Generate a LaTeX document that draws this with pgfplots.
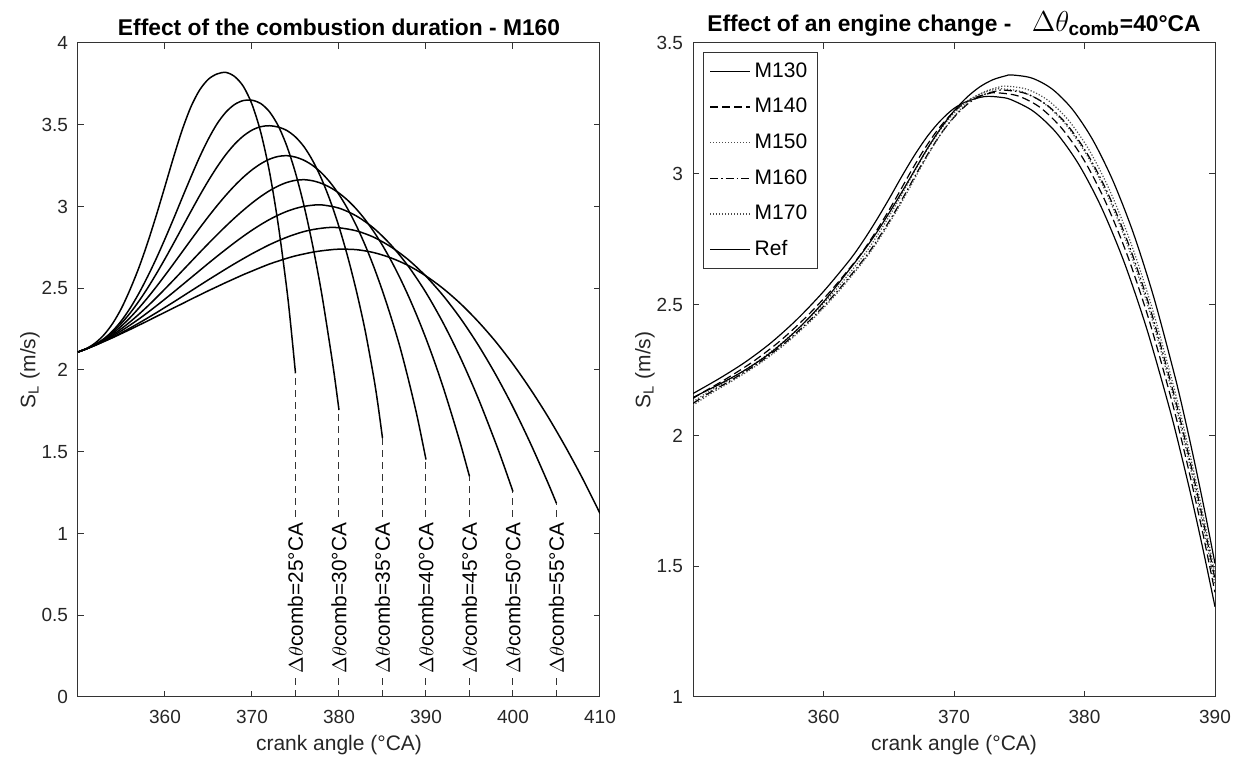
\documentclass[border=0pt]{standalone}
\usepackage{fontspec}
\setmainfont{Liberation Sans}
\usepackage{amsmath}
\usepackage{pgfplots}
\pgfplotsset{compat=1.18}

\pgfplotsset{
  every axis title shift=0pt,
  mat/.style={
    scale only axis, width=261pt, height=327pt,
    anchor=south west,
    axis line style={black!80, line width=0.5pt},
    tick style={black!80, line width=0.5pt},
    tick align=inside,
    major tick length=3.2pt,
    /pgf/number format/assume math mode=true,
    ticklabel style={font=\fontsize{9.5}{11}\selectfont, text=black!85},
    xticklabel style={yshift=-3pt},
    yticklabel style={xshift=-1.5pt},
    label style={font=\fontsize{10.5}{12}\selectfont, text=black!85},
    xlabel style={at={(axis description cs:0.5,-0.0734)}, anchor=center},
    ylabel style={at={(axis description cs:-0.092,0.5)}, anchor=center},
    title style={font=\bfseries\fontsize{11.4}{13}\selectfont, at={(0.5,1)}, anchor=south},
  },
  cur/.style={black, line width=0.75pt, smooth},
  vdash/.style={black!80, line width=0.5pt, dash pattern=on 3.5pt off 2.5pt},
  rc/.style={line width=0.6pt, smooth},
}
\tikzset{lab/.style={rotate=90, fill=white, inner sep=1pt, font=\fontsize{10.4}{12}\selectfont}}

\begin{document}
\begin{tikzpicture}
\useasboundingbox (0,0) rectangle (619.5pt,382pt);

% ---------------- left panel ----------------
\begin{axis}[mat, at={(39pt,33.5pt)},
  xmin=350, xmax=410, ymin=0, ymax=4,
  xtick={360,370,380,390,400,410},
  ytick={0,0.5,1,1.5,2,2.5,3,3.5,4},
  xlabel={crank angle (°CA)},
  ylabel={S\textsubscript{L} (m/s)},
  title={Effect of the combustion duration - M160},
]
% dtheta = 25
\addplot[cur] coordinates {(350,2.11) (351,2.132) (352,2.166) (353,2.216) (354,2.286) (355,2.378) (356,2.494) (357,2.626) (358,2.778) (359,2.946) (360,3.124) (361,3.304) (362,3.472) (363,3.612) (364,3.714) (365,3.779) (366,3.811) (367,3.820) (368,3.795) (369,3.735) (370,3.625) (371,3.455) (372,3.215) (373,2.895) (374,2.495) (374.5,2.25) (375,1.98)};
% dtheta = 30
\addplot[cur] coordinates {(350,2.11) (351,2.130) (352,2.156) (353,2.192) (354,2.240) (355,2.302) (356,2.379) (357,2.469) (358,2.571) (359,2.682) (360,2.802) (361,2.927) (362,3.056) (363,3.183) (364,3.305) (365,3.414) (366,3.507) (367,3.577) (368,3.624) (369,3.648) (370,3.650) (371,3.630) (372,3.580) (373,3.495) (374,3.370) (375,3.205) (376,3.000) (377,2.755) (378,2.470) (379,2.135) (379.5,1.955) (380,1.755)};
% dtheta = 35
\addplot[cur] coordinates {(350,2.11) (351,2.130) (352,2.156) (353,2.190) (354,2.233) (355,2.286) (356,2.349) (357,2.421) (358,2.501) (359,2.588) (360,2.680) (361,2.776) (362,2.874) (363,2.972) (364,3.068) (365,3.159) (366,3.243) (367,3.318) (368,3.381) (369,3.431) (370,3.467) (371,3.488) (372,3.494) (373,3.486) (374,3.465) (375,3.425) (376,3.364) (377,3.278) (378,3.168) (379,3.034) (380,2.876) (381,2.693) (382,2.483) (383,2.243) (384,1.953) (384.5,1.78) (385,1.583)};
% dtheta = 40
\addplot[cur] coordinates {(350,2.11) (351,2.130) (352,2.155) (353,2.186) (354,2.224) (355,2.269) (356,2.321) (357,2.379) (358,2.442) (359,2.509) (360,2.579) (361,2.651) (362,2.724) (363,2.797) (364,2.869) (365,2.939) (366,3.006) (367,3.069) (368,3.127) (369,3.179) (370,3.224) (371,3.261) (372,3.289) (373,3.306) (374,3.311) (375,3.302) (376,3.282) (377,3.250) (378,3.205) (379,3.146) (380,3.073) (381,2.985) (382,2.882) (383,2.764) (384,2.631) (385,2.483) (386,2.320) (387,2.142) (388,1.937) (389,1.712) (390,1.452)};
% dtheta = 45
\addplot[cur] coordinates {(350,2.11) (351,2.130) (352,2.154) (353,2.182) (354,2.215) (355,2.253) (356,2.295) (357,2.341) (358,2.390) (359,2.442) (360,2.496) (361,2.551) (362,2.607) (363,2.663) (364,2.719) (365,2.774) (366,2.828) (367,2.880) (368,2.930) (369,2.977) (370,3.021) (371,3.061) (372,3.096) (373,3.125) (374,3.147) (375,3.160) (376,3.164) (377,3.157) (378,3.141) (379,3.116) (380,3.082) (381,3.038) (382,2.984) (383,2.920) (384,2.846) (385,2.762) (386,2.668) (387,2.564) (388,2.450) (389,2.326) (390,2.192) (391,2.047) (392,1.890) (393,1.720) (394,1.542) (395,1.349)};
% dtheta = 50
\addplot[cur] coordinates {(350,2.11) (351,2.130) (352,2.153) (353,2.179) (354,2.208) (355,2.240) (356,2.275) (357,2.312) (358,2.351) (359,2.392) (360,2.434) (361,2.477) (362,2.521) (363,2.565) (364,2.609) (365,2.653) (366,2.696) (367,2.738) (368,2.779) (369,2.818) (370,2.855) (371,2.889) (372,2.920) (373,2.947) (374,2.970) (375,2.988) (376,3.001) (377,3.008) (378,3.010) (380,2.990) (382,2.942) (384,2.867) (386,2.763) (388,2.632) (390,2.473) (392,2.285) (394,2.070) (396,1.827) (398,1.555) (399,1.409) (400,1.256)};
% dtheta = 55
\addplot[cur] coordinates {(350,2.11) (351,2.130) (352,2.151) (353,2.175) (354,2.200) (355,2.228) (356,2.257) (357,2.287) (358,2.318) (359,2.350) (360,2.383) (361,2.416) (362,2.450) (363,2.484) (364,2.518) (365,2.552) (366,2.585) (367,2.618) (368,2.650) (369,2.681) (370,2.711) (371,2.739) (372,2.766) (373,2.790) (374,2.812) (375,2.831) (376,2.847) (377,2.859) (378,2.867) (379,2.872) (380,2.870) (382,2.851) (384,2.812) (386,2.752) (388,2.673) (390,2.573) (392,2.453) (394,2.313) (396,2.153) (398,1.973) (400,1.773) (402,1.552) (404,1.312) (405,1.184)};
% dtheta = 60
\addplot[cur] coordinates {(350,2.11) (351,2.131) (352,2.152) (353,2.175) (354,2.198) (355,2.223) (356,2.248) (357,2.274) (358,2.300) (359,2.327) (360,2.353) (361,2.380) (362,2.406) (363,2.433) (364,2.459) (365,2.485) (366,2.510) (367,2.535) (368,2.559) (369,2.583) (370,2.605) (371,2.627) (372,2.648) (373,2.666) (374,2.683) (375,2.698) (376,2.710) (377,2.721) (378,2.729) (379,2.735) (380,2.739) (382,2.736) (384,2.718) (386,2.685) (388,2.638) (390,2.575) (392,2.497) (394,2.404) (396,2.296) (398,2.174) (400,2.036) (402,1.883) (404,1.716) (406,1.533) (408,1.336) (410,1.123)};
% dashed end markers
\addplot[vdash] coordinates {(375,0) (375,1.98)};
\addplot[vdash] coordinates {(380,0) (380,1.755)};
\addplot[vdash] coordinates {(385,0) (385,1.583)};
\addplot[vdash] coordinates {(390,0) (390,1.452)};
\addplot[vdash] coordinates {(395,0) (395,1.349)};
\addplot[vdash] coordinates {(400,0) (400,1.256)};
\addplot[vdash] coordinates {(405,0) (405,1.184)};
\node[lab] at (axis cs:375,0.605) {$\Delta\theta$comb=25°CA};
\node[lab] at (axis cs:380,0.605) {$\Delta\theta$comb=30°CA};
\node[lab] at (axis cs:385,0.605) {$\Delta\theta$comb=35°CA};
\node[lab] at (axis cs:390,0.605) {$\Delta\theta$comb=40°CA};
\node[lab] at (axis cs:395,0.605) {$\Delta\theta$comb=45°CA};
\node[lab] at (axis cs:400,0.605) {$\Delta\theta$comb=50°CA};
\node[lab] at (axis cs:405,0.605) {$\Delta\theta$comb=55°CA};
\end{axis}

% ---------------- right panel ----------------
\begin{axis}[mat, at={(346.5pt,33.5pt)},
  xmin=350, xmax=390, ymin=1, ymax=3.5,
  xtick={360,370,380,390},
  ytick={1,1.5,2,2.5,3,3.5},
  xlabel={crank angle (°CA)},
  ylabel={S\textsubscript{L} (m/s)},
  title={Effect of an engine change -\hspace{0.9em}{\fontsize{13.5}{15}\selectfont$\Delta\theta_{\text{\bfseries comb}}$}=40°CA},
  legend style={at={(0,1)}, anchor=north west, xshift=5pt, yshift=-4.5pt,
    draw=black!80, line width=0.5pt, font=\fontsize{10.5}{12}\selectfont,
    row sep=5pt, inner xsep=3pt, inner ysep=3pt, cells={anchor=west}},
  legend image code/.code={\draw[#1] (0pt,0pt) -- (20pt,0pt);},
]
% M130
\addplot[rc, black] coordinates {(350,2.16) (352,2.217) (354,2.28) (356,2.355) (358,2.445) (360,2.55) (362,2.67) (363,2.74) (364,2.818) (365,2.902) (366,2.99) (367,3.073) (368,3.146) (369,3.205) (370,3.25) (371,3.277) (372,3.292) (372.6,3.296) (373.47,3.293) (374.34,3.284) (376.08,3.239) (377.82,3.158) (379.56,3.036) (381.3,2.871) (383.04,2.662) (384.78,2.406) (386.52,2.102) (387.39,1.931) (388.26,1.749) (389.13,1.553) (390,1.345)};
% M140
\addplot[rc, black, dash pattern=on 4pt off 2pt] coordinates {(350,2.141) (350.6,2.160) (352.6,2.218) (354.6,2.282) (356.6,2.358) (358.6,2.449) (360.6,2.555) (362.6,2.676) (363.6,2.747) (364.6,2.826) (365.6,2.911) (366.6,3.000) (367.6,3.084) (368.6,3.158) (369.6,3.218) (370.6,3.263) (371.6,3.291) (372.6,3.306) (373.2,3.31) (374.88,3.298) (376.56,3.255) (378.24,3.175) (379.92,3.056) (381.6,2.894) (383.28,2.689) (384.96,2.439) (386.64,2.141) (387.48,1.974) (388.32,1.795) (389.16,1.604) (390,1.40)};
% M150
\addplot[rc, black!70, dash pattern=on 0.6pt off 0.9pt] coordinates {(350,2.128) (351,2.161) (353,2.219) (355,2.284) (357,2.361) (359,2.453) (361,2.560) (363,2.683) (364,2.755) (365,2.835) (366,2.921) (367,3.011) (368,3.096) (369,3.171) (370,3.232) (371,3.278) (372,3.305) (373,3.321) (373.6,3.325) (375.24,3.313) (376.88,3.270) (378.52,3.191) (380.16,3.073) (381.8,2.913) (383.44,2.709) (385.08,2.460) (386.72,2.165) (387.54,2.000) (388.36,1.822) (389.18,1.632) (390,1.43)};
% M160
\addplot[rc, black, dash pattern=on 4pt off 1.5pt on 0.8pt off 1.5pt] coordinates {(350,2.122) (351.2,2.161) (353.2,2.219) (355.2,2.283) (357.2,2.360) (359.2,2.452) (361.2,2.559) (363.2,2.681) (364.2,2.753) (365.2,2.832) (366.2,2.918) (367.2,3.008) (368.2,3.092) (369.2,3.167) (370.2,3.227) (371.2,3.273) (372.2,3.301) (373.2,3.316) (373.8,3.32) (375.42,3.308) (377.04,3.266) (378.66,3.188) (380.28,3.071) (381.9,2.913) (383.52,2.712) (385.14,2.467) (386.76,2.175) (387.57,2.012) (388.38,1.837) (389.19,1.650) (390,1.45)};
% M170
\addplot[rc, black!70, dash pattern=on 0.6pt off 0.9pt] coordinates {(350,2.115) (351.4,2.161) (353.4,2.220) (355.4,2.285) (357.4,2.363) (359.4,2.456) (361.4,2.564) (363.4,2.688) (364.4,2.761) (365.4,2.841) (366.4,2.928) (367.4,3.019) (368.4,3.105) (369.4,3.180) (370.4,3.241) (371.4,3.287) (372.4,3.315) (373.4,3.331) (374.0,3.335) (375.6,3.323) (377.2,3.281) (378.8,3.203) (380.4,3.087) (382.0,2.929) (383.6,2.729) (385.2,2.484) (386.8,2.193) (387.6,2.031) (388.4,1.856) (389.2,1.669) (390,1.47)};
% Ref
\addplot[rc, black] coordinates {(350,2.145) (352,2.195) (354,2.25) (356,2.318) (358,2.405) (360,2.51) (362,2.635) (363,2.70) (364,2.77) (365,2.848) (366,2.93) (367,3.015) (368,3.10) (369,3.175) (370,3.24) (371,3.293) (372,3.333) (373,3.36) (374,3.375) (374.4,3.378) (375.96,3.366) (377.52,3.324) (379.08,3.246) (380.64,3.129) (382.2,2.971) (383.76,2.771) (385.32,2.526) (386.88,2.235) (387.66,2.072) (388.44,1.896) (389.22,1.709) (390,1.51)};
\legend{M130, M140, M150, M160, M170, Ref}
\end{axis}
\end{tikzpicture}
\end{document}
